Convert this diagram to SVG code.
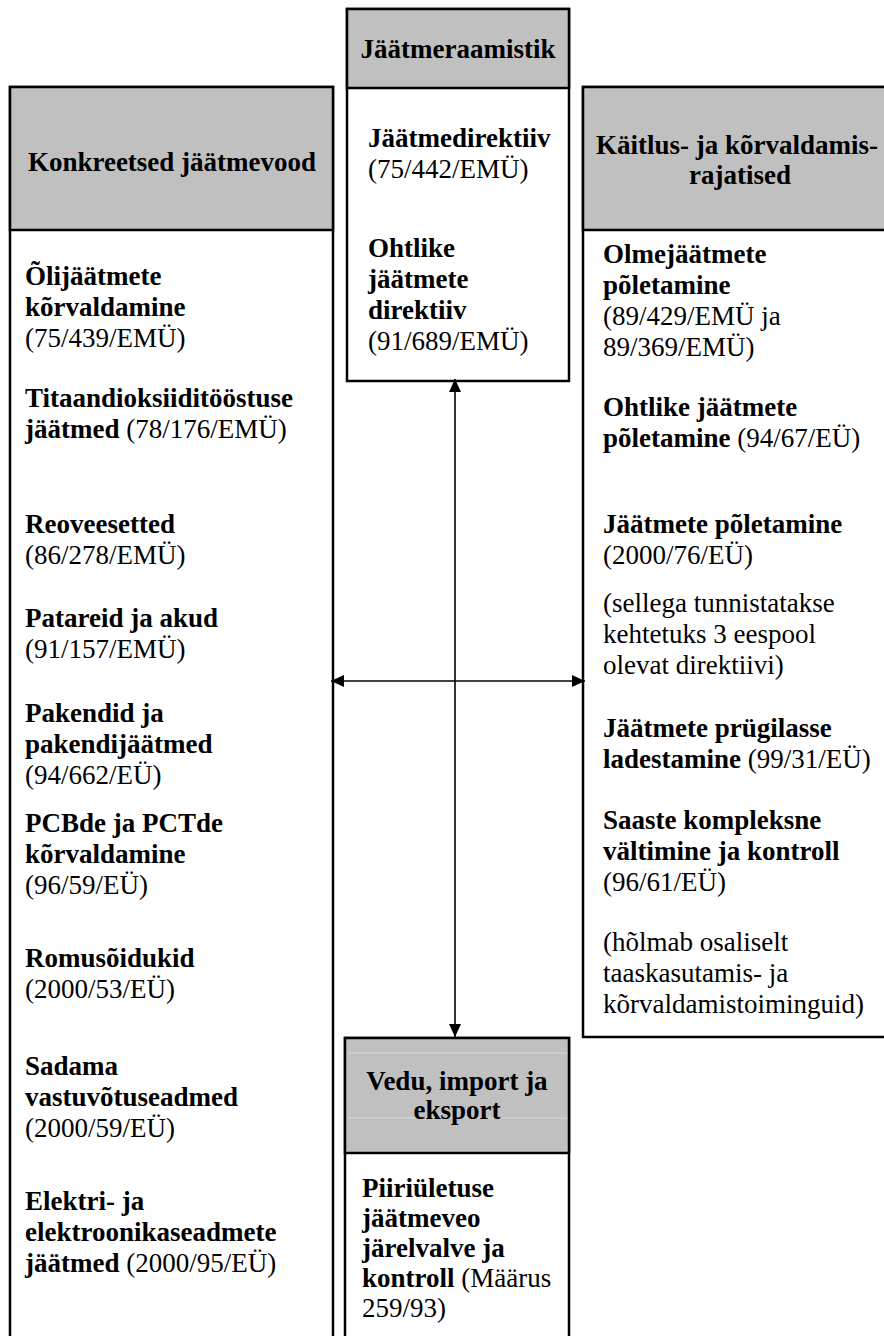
<svg xmlns="http://www.w3.org/2000/svg" width="884" height="1336" viewBox="0 0 884 1336">
  <style>
    .box{fill:#fff;stroke:#000;stroke-width:2.5}
    .hdr{fill:#c0c0c0;stroke:#000;stroke-width:2.5}
    .rule{stroke:#d8d8d8;stroke-width:1}
    text{font-family:"Liberation Serif","Times New Roman",serif;font-size:27px;fill:#000}
    .b{font-weight:bold}
    .c{text-anchor:middle}
    .conn{stroke:#000;stroke-width:1.6;fill:none}
  </style>
  <defs>
    <marker id="arrow" viewBox="0 0 13 12" refX="13" refY="6" markerWidth="13" markerHeight="12" markerUnits="userSpaceOnUse" orient="auto-start-reverse">
      <path d="M0,0 L13,6 L0,12 z" fill="#000"/>
    </marker>
  </defs>
  <rect width="884" height="1336" fill="#fff"/>

  <!-- Waste framework (top centre) -->
  <g id="node-raamistik">
    <rect class="box" x="347" y="9" width="222" height="372"/>
    <rect class="hdr" x="347" y="9" width="222" height="79"/>
    <text class="b c" x="458" y="58">Jäätmeraamistik</text>
    <text x="368" y="147"><tspan class="b">Jäätmedirektiiv</tspan><tspan x="368" y="178">(75/442/EMÜ)</tspan></text>
    <text x="368" y="257"><tspan class="b">Ohtlike</tspan><tspan class="b" x="368" y="288">jäätmete</tspan><tspan class="b" x="368" y="319">direktiiv</tspan><tspan x="368" y="350">(91/689/EMÜ)</tspan></text>
  </g>

  <!-- Specific waste streams (left) -->
  <g id="node-jaatmevood">
    <rect class="box" x="10" y="87" width="323" height="1260"/>
    <rect class="hdr" x="10" y="87" width="323" height="143"/>
    <text class="b c" x="172" y="171">Konkreetsed jäätmevood</text>
    <text x="25" y="285"><tspan class="b">Õlijäätmete</tspan><tspan class="b" x="25" y="316">kõrvaldamine</tspan><tspan x="25" y="347">(75/439/EMÜ)</tspan></text>
    <text x="25" y="407"><tspan class="b">Titaandioksiiditööstuse</tspan><tspan class="b" x="25" y="438">jäätmed</tspan><tspan> (78/176/EMÜ)</tspan></text>
    <text x="25" y="533"><tspan class="b">Reoveesetted</tspan><tspan x="25" y="564">(86/278/EMÜ)</tspan></text>
    <text x="25" y="627"><tspan class="b">Patareid ja akud</tspan><tspan x="25" y="658">(91/157/EMÜ)</tspan></text>
    <text x="25" y="722"><tspan class="b">Pakendid ja</tspan><tspan class="b" x="25" y="753">pakendijäätmed</tspan><tspan x="25" y="784">(94/662/EÜ)</tspan></text>
    <text x="25" y="832"><tspan class="b">PCBde ja PCTde</tspan><tspan class="b" x="25" y="863">kõrvaldamine</tspan><tspan x="25" y="894">(96/59/EÜ)</tspan></text>
    <text x="25" y="967"><tspan class="b">Romusõidukid</tspan><tspan x="25" y="998">(2000/53/EÜ)</tspan></text>
    <text x="25" y="1075"><tspan class="b">Sadama</tspan><tspan class="b" x="25" y="1106">vastuvõtuseadmed</tspan><tspan x="25" y="1137">(2000/59/EÜ)</tspan></text>
    <text x="25" y="1210"><tspan class="b">Elektri- ja</tspan><tspan class="b" x="25" y="1241">elektroonikaseadmete</tspan><tspan class="b" x="25" y="1272">jäätmed</tspan><tspan> (2000/95/EÜ)</tspan></text>
  </g>

  <!-- Treatment and disposal facilities (right) -->
  <g id="node-rajatised">
    <rect class="box" x="583" y="87" width="310" height="950"/>
    <rect class="hdr" x="583" y="87" width="310" height="143"/>
    <text class="b c" x="737" y="154">Käitlus- ja kõrvaldamis-</text>
    <text class="b c" x="740" y="184">rajatised</text>
    <text x="603" y="263"><tspan class="b">Olmejäätmete</tspan><tspan class="b" x="603" y="294">põletamine</tspan><tspan x="603" y="325">(89/429/EMÜ ja</tspan><tspan x="603" y="356">89/369/EMÜ)</tspan></text>
    <text x="603" y="416"><tspan class="b">Ohtlike jäätmete</tspan><tspan class="b" x="603" y="447">põletamine</tspan><tspan> (94/67/EÜ)</tspan></text>
    <text x="603" y="533"><tspan class="b">Jäätmete põletamine</tspan><tspan x="603" y="564">(2000/76/EÜ)</tspan></text>
    <text x="603" y="612">(sellega tunnistatakse<tspan x="603" y="643">kehtetuks 3 eespool</tspan><tspan x="603" y="674">olevat direktiivi)</tspan></text>
    <text x="603" y="737"><tspan class="b">Jäätmete prügilasse</tspan><tspan class="b" x="603" y="768">ladestamine</tspan><tspan> (99/31/EÜ)</tspan></text>
    <text x="603" y="829"><tspan class="b">Saaste kompleksne</tspan><tspan class="b" x="603" y="860">vältimine ja kontroll</tspan><tspan x="603" y="891">(96/61/EÜ)</tspan></text>
    <text x="603" y="951">(hõlmab osaliselt<tspan x="603" y="982">taaskasutamis- ja</tspan><tspan x="603" y="1013">kõrvaldamistoiminguid)</tspan></text>
  </g>

  <!-- Transport, import and export (bottom centre) -->
  <g id="node-vedu">
    <rect class="box" x="345" y="1038" width="224" height="310"/>
    <rect class="hdr" x="345" y="1038" width="224" height="115"/>
    <line class="rule" x1="347" y1="1053" x2="567" y2="1053"/>
    <line class="rule" x1="347" y1="1118" x2="567" y2="1118"/>
    <text class="b c" x="457" y="1090">Vedu, import ja</text>
    <text class="b c" x="457" y="1119">eksport</text>
    <text x="362" y="1197"><tspan class="b">Piiriületuse</tspan><tspan class="b" x="362" y="1227">jäätmeveo</tspan><tspan class="b" x="362" y="1257">järelvalve ja</tspan><tspan class="b" x="362" y="1287">kontroll</tspan><tspan> (Määrus</tspan><tspan x="362" y="1317">259/93)</tspan></text>
  </g>

  <!-- Two-way links between the groups -->
  <g id="connectors">
    <line class="conn" x1="455" y1="379" x2="455" y2="1037" marker-start="url(#arrow)" marker-end="url(#arrow)"/>
    <line class="conn" x1="331" y1="681" x2="585" y2="681" marker-start="url(#arrow)" marker-end="url(#arrow)"/>
  </g>
</svg>
